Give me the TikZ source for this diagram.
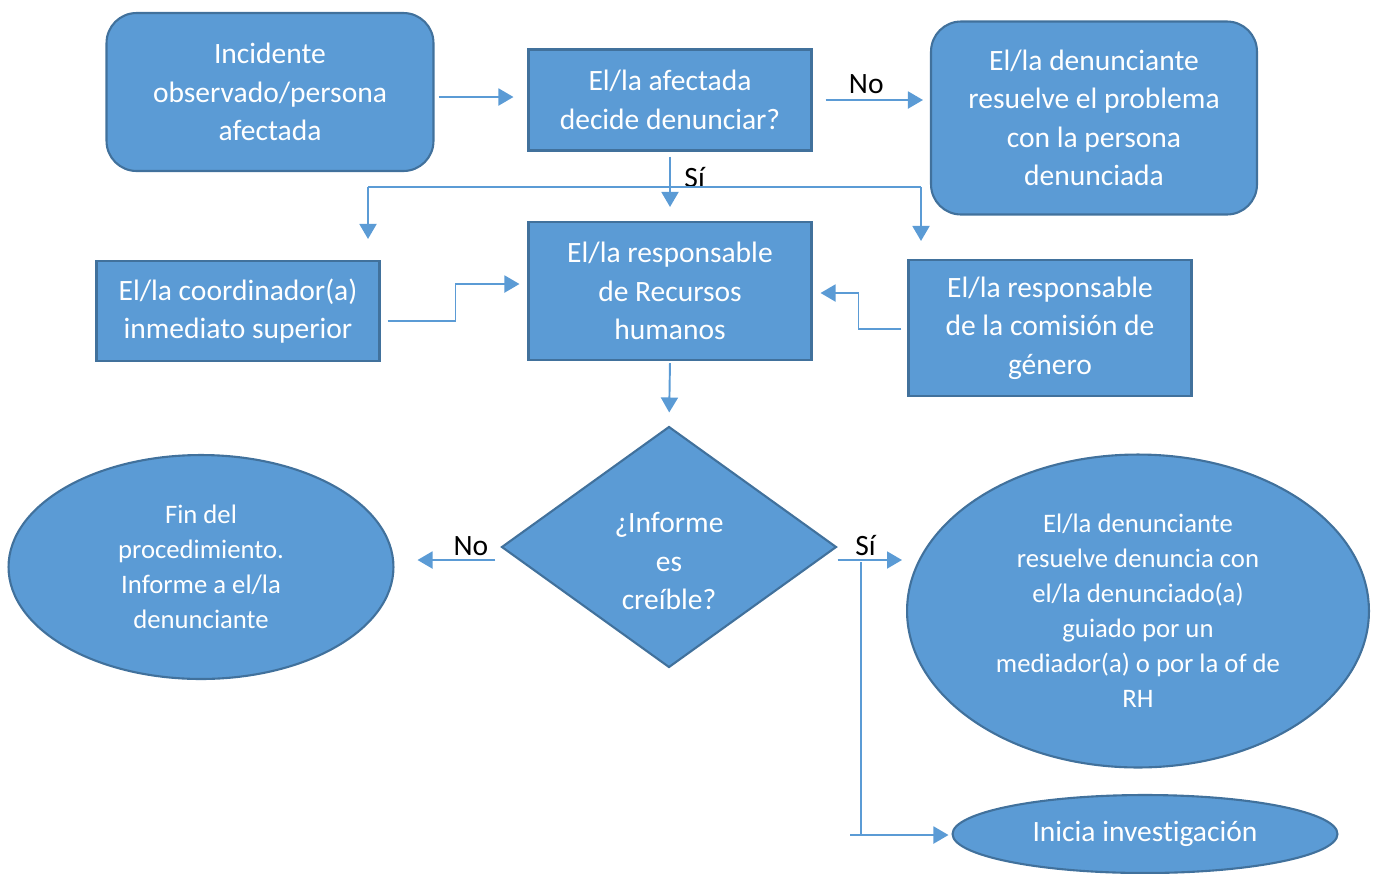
\documentclass[tikz,border=0pt]{standalone}
\usepackage{fontspec}
\setmainfont{Carlito}[Ligatures=NoCommon]
\usetikzlibrary{positioning}
\usetikzlibrary{calc}
\usetikzlibrary{shapes.geometric,arrows.meta}
\definecolor{boxblue}{HTML}{5B9BD5}
\definecolor{edgeblue}{HTML}{41719C}
\tikzstyle{block} = [draw=edgeblue, line width=1.2pt, fill=boxblue, text=white, rectangle, align=center, font=\fontsize{16.8}{21.8}\selectfont]
\tikzstyle{rblock} = [block, rounded corners=0.6cm]
\tikzstyle{decision} = [block, diamond]
\tikzstyle{oval} = [block, ellipse, font=\fontsize{15.2}{19.9}\selectfont]
\tikzstyle{line} = [draw=boxblue, line width=1.1pt]
\tikzstyle{lab} = [font=\fontsize{16.8}{18}\selectfont, text=black, inner sep=2pt]

\begin{document}
\begin{tikzpicture}[x=0.02cm,y=-0.02cm,>={Triangle[length=0.3cm,width=0.34cm]}]
    \useasboundingbox (0,0) rectangle (1376,873);
    \node [rblock, minimum width=6.54cm, minimum height=3.16cm] (incidente) at (270,92) {Incidente\\observado/persona\\afectada};
    \node [block, minimum width=5.66cm, minimum height=2.02cm] (decide) at (670,100) {El/la afectada\\decide denunciar?};
    \node [rblock, minimum width=6.52cm, minimum height=3.86cm] (resuelve) at (1094,118) {El/la denunciante\\resuelve el problema\\con la persona\\denunciada};
    \node [block, minimum width=5.66cm, minimum height=2cm] (coord) at (238,311) {El/la coordinador(a)\\inmediato superior};
    \node [block, minimum width=5.66cm, minimum height=2.76cm] (rrhh) at (670,291) {El/la responsable\\de Recursos\\humanos};
    \node [block, minimum width=5.66cm, minimum height=2.72cm] (comision) at (1050,328) {El/la responsable\\de la comisión de\\género};
    \node [decision, minimum width=6.7cm, minimum height=4.82cm] (informe) at (669,547) {};
    \node [text=white, align=center, font=\fontsize{16.8}{21.8}\selectfont] (informetxt) at (669,561) {¿Informe\\es\\creíble?};
    \node [oval, minimum width=7.7cm, minimum height=4.48cm] (fin) at (201,567) {Fin del\\procedimiento.\\Informe a el/la\\denunciante};
    \node [oval, minimum width=9.24cm, minimum height=6.26cm] (mediacion) at (1138,611) {El/la denunciante\\resuelve denuncia con\\el/la denunciado(a)\\guiado por un\\mediador(a) o por la of de\\RH};
    \node [oval, font=\fontsize{16.8}{18}\selectfont, minimum width=7.7cm, minimum height=1.56cm] (inicia) at (1145,834) {Inicia investigación};

    \coordinate (brL) at (368,187);
    \coordinate (brR) at (921,187);
    \coordinate (vt) at (861,562);
    \coordinate (vb) at (861,835);

    \draw [line,->,shorten <=0.08cm,shorten >=0.28cm] ([yshift=-0.1cm]incidente.east) -- ([yshift=-0.1cm]incidente.east -| decide.west); % connections
    \draw [line,->,shorten <=0.26cm,shorten >=0.14cm] (decide.east) -- node[lab,above,xshift=-0.1cm,yshift=0.04cm] {No} (decide.east -| resuelve.west);
    \draw [line,->,shorten <=0.1cm,shorten >=0.28cm] (decide.south) -- node[lab,right,pos=0.38,xshift=0.2cm] {Sí} (rrhh.north);
    \draw [line] (brL) -- (brR);
    \draw [line,->,shorten >=0.42cm] (brL) -- (brL |- coord.north);
    \draw [line,->,shorten >=0.36cm] (brR) -- (brR |- comision.north);
    \draw [line,->,shorten <=0.14cm,shorten >=0.16cm] ([yshift=-0.2cm]coord.east) -- ++(75,0) |- ([yshift=0.14cm]rrhh.west);
    \draw [line,->,shorten <=0.12cm,shorten >=0.16cm] ([yshift=-0.02cm]comision.west) -- ++(-49,0) |- ([yshift=-0.04cm]rrhh.east);
    \draw [line,->,shorten <=0.04cm,shorten >=0.26cm] (rrhh.south) -- (informe.north);

    \draw [line,->,shorten <=0.1cm,shorten >=0.46cm] ([yshift=-0.26cm]informe.west) -- node[lab,above,pos=0.28] {No} ([yshift=-0.26cm]informe.west -| fin.east);
    \draw [line,->,shorten >=0.08cm] ([yshift=-0.26cm]informe.east) -- node[lab,above,pos=0.41] {Sí} ([yshift=-0.26cm]informe.east -| mediacion.west);
    \draw [line] (vt) -- (vb);
    \draw [line,->,shorten >=0.06cm] ([xshift=-0.22cm]vb) -- (vb -| inicia.west);
\end{tikzpicture}
\end{document}
